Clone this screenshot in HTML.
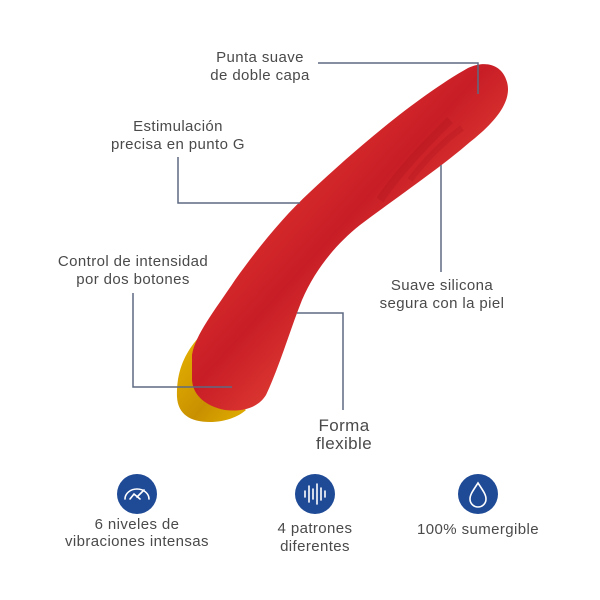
<!DOCTYPE html>
<html><head><meta charset="utf-8"><style>
body{margin:0;background:#fff}
svg{display:block}
text{font-family:"Liberation Sans",sans-serif;fill:#4a4a4a;font-size:15px;letter-spacing:0.4px;text-anchor:middle}
</style></head><body>
<svg width="600" height="600" viewBox="0 0 600 600">
<defs>
<linearGradient id="rg" x1="0.2" y1="0.2" x2="0.8" y2="0.8">
<stop offset="0" stop-color="#e63a30"/><stop offset="0.45" stop-color="#c81d26"/><stop offset="1" stop-color="#f75a40"/>
</linearGradient>
<linearGradient id="yg" x1="0" y1="0" x2="1" y2="1">
<stop offset="0" stop-color="#e8b400"/><stop offset="0.6" stop-color="#c89000"/><stop offset="1" stop-color="#e2b000"/>
</linearGradient>
</defs>
<path d="M200,336 C185,352 176,372 177,397 C178,414 190,422 210,422 C225,422 238,417 246,410 L215,390 Z" fill="url(#yg)"/>
<path d="M192,355 C195,335 215,310 235,280 C260,245 285,215 310,192 C360,145 420,95 468,68 C485,60 502,64 507,82 C512,100 498,120 470,142 C440,168 400,195 360,225 C335,245 315,270 302,300 C290,330 280,365 266,395 C258,408 242,412 225,410 C205,406 193,395 192,380 Z" fill="url(#rg)"/>
<path d="M380,200 C400,170 430,140 450,120" stroke="#a01018" stroke-width="8" fill="none" opacity="0.2"/>
<path d="M410,180 C425,160 445,140 462,128" stroke="#a01018" stroke-width="6" fill="none" opacity="0.2"/>
<g stroke="#5d6a82" stroke-width="1.5" fill="none">
<path d="M318,63 H478 V94"/>
<path d="M178,157 V203 H300"/>
<path d="M133,293 V387 H232"/>
<path d="M441,165 V272"/>
<path d="M297,313 H343 V410"/>
</g>
<text x="260" y="62">Punta suave</text>
<text x="260" y="80">de doble capa</text>
<text x="178" y="131">Estimulación</text>
<text x="178" y="149">precisa en punto G</text>
<text x="133" y="266">Control de intensidad</text>
<text x="133" y="284">por dos botones</text>
<text x="442" y="290">Suave silicona</text>
<text x="442" y="308">segura con la piel</text>
<text x="344" y="431" style="font-size:17px">Forma</text>
<text x="344" y="449" style="font-size:17px">flexible</text>
<circle cx="137" cy="494" r="20" fill="#1f4a96"/>
<circle cx="315" cy="494" r="20" fill="#1f4a96"/>
<circle cx="478" cy="494" r="20" fill="#1f4a96"/>
<g stroke="#fff" stroke-width="1.6" fill="none" stroke-linecap="round">
<path d="M125,499 A12,10 0 0 1 149,499 M137,497 L144,490 M130,499 L134,494 L140,499"/>
<path d="M305,491V497 M309,486V502 M313,489V499 M317,484V504 M321,488V500 M325,491V497"/>
<path d="M478,483 C472,492 470,495 470,499 A8,8 0 0 0 486,499 C486,495 484,492 478,483 Z"/>
</g>
<text x="137" y="529">6 niveles de</text>
<text x="137" y="546">vibraciones intensas</text>
<text x="315" y="533">4 patrones</text>
<text x="315" y="551">diferentes</text>
<text x="478" y="534">100% sumergible</text>
</svg>
</body></html>
